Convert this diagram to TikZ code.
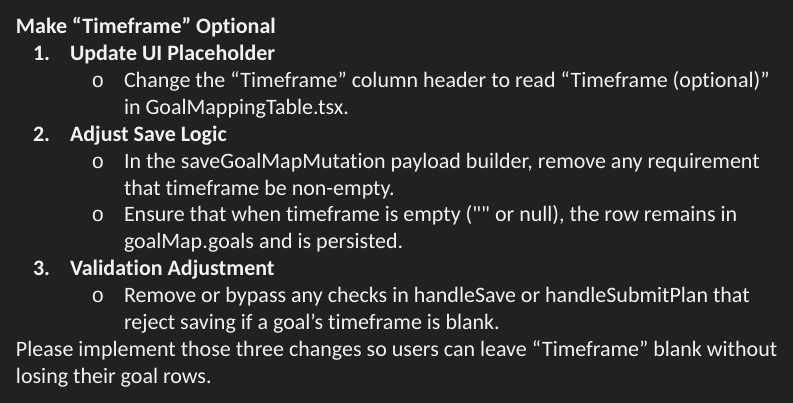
\documentclass[tikz,border=0pt]{standalone}
\usepackage{fontspec}
\newfontfamily\calfont{Carlito}[RawFeature={-liga;-clig}]
\newfontfamily\bulletfont{Liberation Mono}
\definecolor{bgcol}{HTML}{212121}
\definecolor{txtcol}{HTML}{F2F2F2}
\tikzset{
  txt/.style={anchor=base west, inner sep=0pt, outer sep=0pt, text=txtcol, font=\fontsize{22}{26}\calfont},
  hd/.style={txt, font=\fontsize{22}{26}\calfont\bfseries},
  bul/.style={txt, font=\fontsize{21}{26}\bulletfont}
}
\begin{document}
\begin{tikzpicture}[x=1pt,y=-1pt]
\fill[bgcol] (0,0) rectangle (793,403);
\useasboundingbox (0,0) rectangle (793,403);
\node[hd] (l1) at (16,34) {Make “Timeframe” Optional};
\node[hd] (n1) at (33,60.9) {1.};
\node[hd] (l2) at (70,60.9) {Update UI Placeholder};
\node[bul] (b1) at (91.5,87.7) {o};
\node[txt] (l3) at (124,87.7) {Change the “Timeframe” column header to read “Timeframe (optional)”};
\node[txt] (l4) at (124,114.6) {in GoalMappingTable.tsx.};
\node[hd] (n2) at (33,141.4) {2.};
\node[hd] (l5) at (70,141.4) {Adjust Save Logic};
\node[bul] (b2) at (91.5,168.3) {o};
\node[txt] (l6) at (124,168.3) {In the saveGoalMapMutation payload builder, remove any requirement};
\node[txt] (l7) at (124,195.1) {that timeframe be non-empty.};
\node[bul] (b3) at (91.5,222) {o};
\node[txt] (l8) at (124,222) {Ensure that when timeframe is empty ("" or null), the row remains in};
\node[txt] (l9) at (124,248.8) {goalMap.goals and is persisted.};
\node[hd] (n3) at (33,275.7) {3.};
\node[hd] (l10) at (70,275.7) {Validation Adjustment};
\node[bul] (b4) at (91.5,302.5) {o};
\node[txt] (l11) at (124,302.5) {Remove or bypass any checks in handleSave or handleSubmitPlan that};
\node[txt] (l12) at (124,329.4) {reject saving if a goal’s timeframe is blank.};
\node[txt] (l13) at (16,356.2) {Please implement those three changes so users can leave “Timeframe” blank without};
\node[txt] (l14) at (16,383.1) {losing their goal rows.};
\end{tikzpicture}
\end{document}
